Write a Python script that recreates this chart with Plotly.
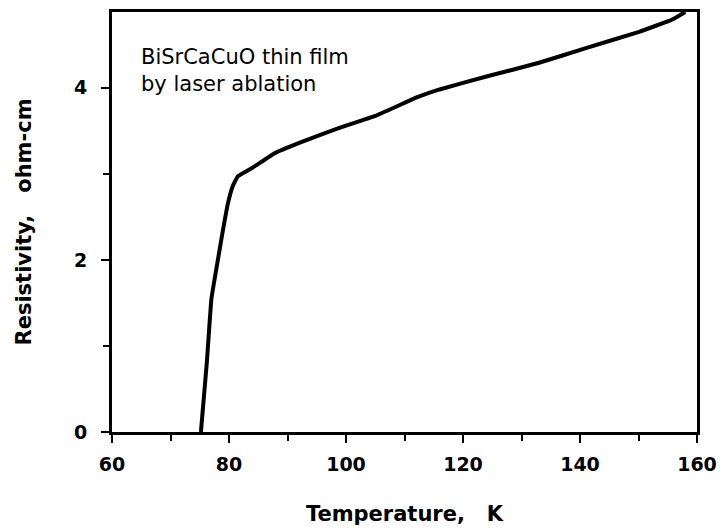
import plotly.graph_objects as go

# Resistivity of a BiSrCaCuO thin film vs temperature
temperature_k = [75.2, 76.2, 77.0, 78.1, 78.8, 79.8, 80.6, 81.5, 84.0, 87.8, 92.0,
                 96.3, 100.0, 104.9, 112.2, 116.0, 124.0, 133.0, 141.0, 150.1, 155.7, 158.0]
resistivity_ohm_cm = [0.0, 0.8, 1.55, 2.0, 2.28, 2.65, 2.85, 2.97, 3.07, 3.24, 3.36,
                      3.47, 3.56, 3.67, 3.89, 3.98, 4.13, 4.29, 4.46, 4.65, 4.79, 4.88]

x_ticks = [60, 80, 100, 120, 140, 160]
y_ticks = [0, 2, 4]

FONT = "DejaVu Sans"
NBSP = "\u00a0"

fig = go.Figure()
fig.add_trace(go.Scatter(
    x=temperature_k, y=resistivity_ohm_cm, mode="lines",
    line=dict(color="black", width=4, shape="spline", smoothing=0.3),
    showlegend=False, hoverinfo="skip",
))

fig.add_annotation(
    x=64.6, y=4.52, xref="x", yref="y", xanchor="left", yanchor="top",
    text="BiSrCaCuO thin film<br>by laser ablation", showarrow=False, align="left",
    font=dict(family=FONT, size=21, color="black"),
)

fig.update_xaxes(
    range=[60, 160], tickvals=x_ticks, ticktext=[str(v) for v in x_ticks],
    showline=True, linecolor="black", linewidth=3, mirror=True,
    ticks="outside", ticklen=8, tickwidth=2, tickcolor="black",
    minor=dict(dtick=10, ticks="outside", ticklen=6, tickwidth=2, tickcolor="black"),
    showgrid=False, zeroline=False, ticklabelstandoff=5, automargin=False,
    tickfont=dict(family=FONT, size=19, color="black", weight="bold"),
    title=dict(text="Temperature," + NBSP * 3 + "K", standoff=33,
               font=dict(family=FONT, size=21, color="black", weight="bold")),
)
fig.update_yaxes(
    range=[0, 4.88], tickvals=y_ticks, ticktext=[str(v) for v in y_ticks],
    showline=True, linecolor="black", linewidth=3, mirror=True,
    ticks="outside", ticklen=8, tickwidth=2, tickcolor="black",
    minor=dict(dtick=1, ticks="outside", ticklen=6, tickwidth=2, tickcolor="black"),
    showgrid=False, zeroline=False, ticklabelstandoff=10, automargin=False,
    tickfont=dict(family=FONT, size=19, color="black", weight="bold"),
    title=dict(text="Resistivity," + NBSP * 3 + "ohm-cm", standoff=37,
               font=dict(family=FONT, size=21, color="black", weight="bold")),
)

fig.update_layout(
    width=724, height=529,
    margin=dict(l=112, r=27, t=12, b=97),
    paper_bgcolor="white", plot_bgcolor="white",
)

fig.write_html("out.html")
